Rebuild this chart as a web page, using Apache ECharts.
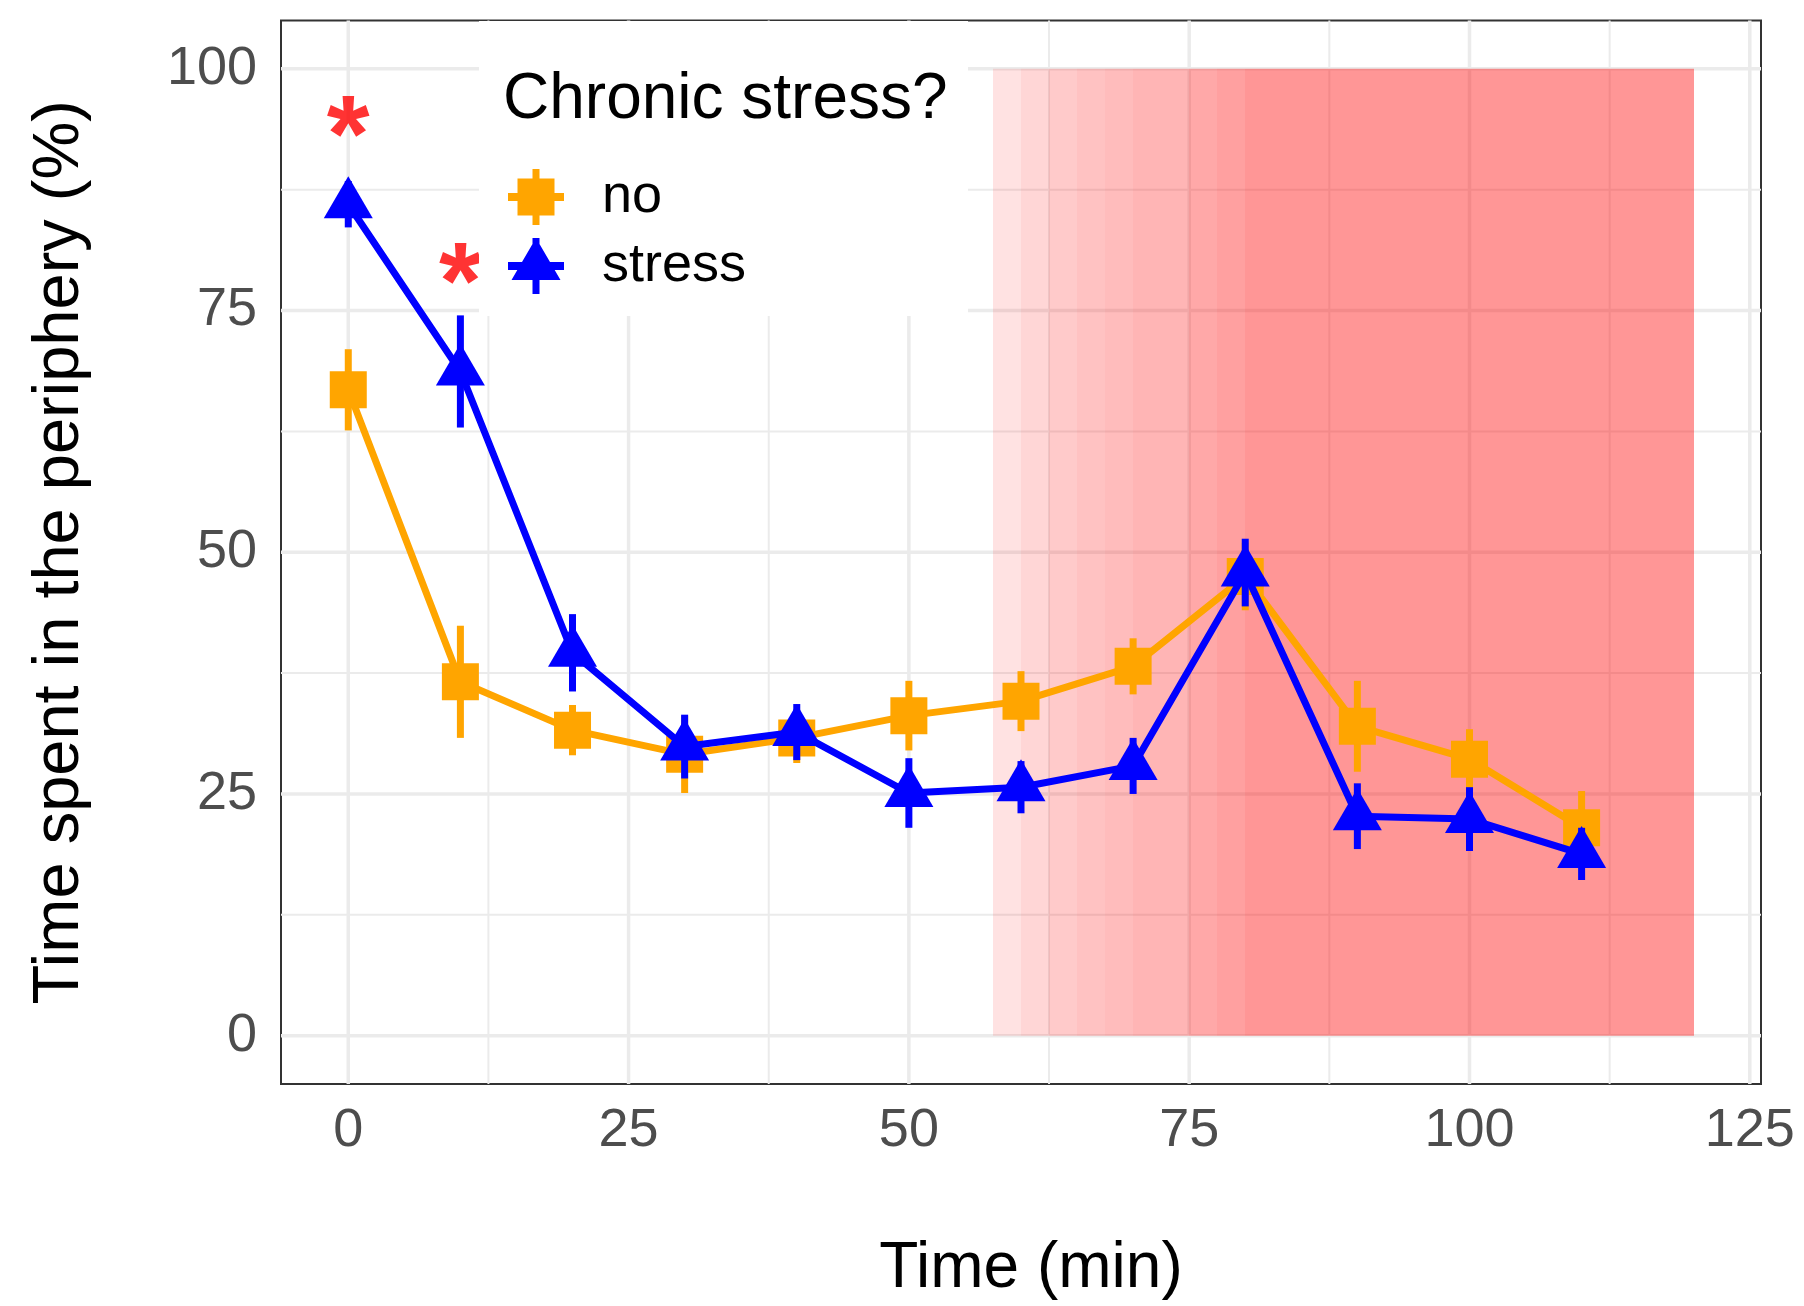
<!DOCTYPE html>
<html><head><meta charset="utf-8">
<script src="https://cdn.jsdelivr.net/npm/echarts@6/dist/echarts.min.js"></script>
<style>html,body{margin:0;padding:0;background:#fff}#c{width:1804px;height:1306px}</style>
</head><body><div id="c"></div>
<script>
// ---------------- data ----------------
const times = [0, 10, 20, 30, 40, 50, 60, 70, 80, 90, 100, 110];
const noMean = [66.8, 36.6, 31.6, 29.1, 30.8, 33.1, 34.6, 38.2, 47.5, 32.0, 28.6, 21.5];
const noSE = [4.2, 5.8, 2.6, 4.0, 2.6, 3.6, 3.1, 2.9, 3.5, 4.7, 3.1, 3.8];
const stressMean = [86.0, 68.7, 39.6, 29.9, 31.4, 25.1, 25.7, 27.9, 47.9, 22.7, 22.4, 18.8];
const stressSE = [2.4, 5.8, 4.0, 3.3, 2.9, 3.6, 2.7, 2.9, 3.5, 3.4, 3.3, 2.7];
const sigTimes = [0, 10];
const sigY = [95.2, 79.9];
const shadeStart = [57.5, 60, 62.5, 65, 67.5, 70, 75, 77.5, 80];
const shadeEnd = [60, 62.5, 65, 67.5, 70, 75, 77.5, 80, 120];
const shadeLow = 0;
const shadeHigh = 100;
const xMajorTicks = [0, 25, 50, 75, 100, 125];
const xMinorTicks = [12.5, 37.5, 62.5, 87.5, 112.5];
const yMajorTicks = [0, 25, 50, 75, 100];
const yMinorTicks = [12.5, 37.5, 62.5, 87.5];
const groupNames = ['no', 'stress'];
const legendTitle = 'Chronic stress?';
const xTitle = 'Time (min)';
const yTitle = 'Time spent in the periphery (%)';

// ---------------- style ----------------
const FONT = '"Liberation Sans", Arial, sans-serif';
const ORANGE = '#FFA500';
const BLUE = '#0000FF';
const GRID = '#EBEBEB';
const shadeAlpha = [0.114, 0.161, 0.208, 0.239, 0.263, 0.29, 0.341, 0.373, 0.412];

const chart = echarts.init(document.getElementById('c'), null, {renderer: 'canvas'});

function errRender(color) {
  return function (params, api) {
    const x = api.value(0);
    const p1 = api.coord([x, api.value(1)]);
    const p2 = api.coord([x, api.value(2)]);
    return {type: 'line', shape: {x1: p1[0], y1: p1[1], x2: p2[0], y2: p2[1]},
      style: {stroke: color, lineWidth: 7, lineCap: 'butt'}};
  };
}

const noIcon = 'path://M0,24H56V32H0Z M24.5,0H31.5V56H24.5Z M9.5,9.5H46.5V46.5H9.5Z';
const stressIcon = 'path://M0,24H56V32H0Z M24.5,0H31.5V56H24.5Z M28,0L52.5,42L3.5,42Z';

const option = {
  animation: false,
  backgroundColor: '#fff',
  grid: {left: 281, right: 43, top: 20.5, bottom: 218.5, show: true, borderColor: '#333', borderWidth: 2, backgroundColor: '#fff'},
  title: {
    text: legendTitle, left: 503, top: 68, padding: 0, z: 11,
    textStyle: {fontSize: 64, lineHeight: 64, fontWeight: 'normal', color: '#000', fontFamily: FONT}
  },
  legend: {
    orient: 'vertical', left: 479, top: 21, z: 10,
    data: [{name: groupNames[0], icon: noIcon}, {name: groupNames[1], icon: stressIcon}],
    itemWidth: 56, itemHeight: 56, itemGap: 13,
    padding: [148, 222, 22, 29],
    backgroundColor: '#fff',
    selectedMode: false,
    itemStyle: {borderWidth: 0},
    formatter: function (name) { return '{t|' + name + '}'; },
    textStyle: {fontSize: 54, color: '#000', fontFamily: FONT,
      rich: {t: {fontSize: 54, color: '#000', fontFamily: FONT, padding: [0, 0, 0, 33]}}}
  },
  xAxis: {
    type: 'value', min: -6, max: 126,
    name: xTitle, nameLocation: 'middle', nameGap: 153,
    nameTextStyle: {fontSize: 64, color: '#000', fontFamily: FONT, padding: [0, 0, 0, 20]},
    axisLine: {show: false},
    axisTick: {show: true, length: 10, customValues: xMajorTicks, lineStyle: {color: '#333', width: 2}},
    axisLabel: {customValues: xMajorTicks, margin: 20, fontSize: 54, color: '#4D4D4D', fontFamily: FONT},
    splitLine: {show: false}
  },
  yAxis: {
    type: 'value', min: -5, max: 105,
    name: yTitle, nameLocation: 'middle', nameGap: 188,
    nameTextStyle: {fontSize: 65, color: '#000', fontFamily: FONT},
    axisLine: {show: false},
    axisTick: {show: true, length: 10, customValues: yMajorTicks, lineStyle: {color: '#333', width: 2}},
    axisLabel: {customValues: yMajorTicks, margin: 24, fontSize: 54, color: '#4D4D4D', fontFamily: FONT},
    splitLine: {show: false}
  },
  series: [
    { // vertical grid lines
      type: 'custom', name: 'xgrid', z: 1, silent: true,
      data: xMajorTicks.map(v => [v, 1]).concat(xMinorTicks.map(v => [v, 0])),
      renderItem: function (params, api) {
        const cs = params.coordSys;
        const x = api.coord([api.value(0), 0])[0];
        return {type: 'line', shape: {x1: x, y1: cs.y, x2: x, y2: cs.y + cs.height},
          style: {stroke: GRID, lineWidth: api.value(1) ? 3.5 : 2}};
      }
    },
    { // horizontal grid lines
      type: 'custom', name: 'ygrid', z: 1, silent: true,
      data: yMajorTicks.map(v => [0, v, 1]).concat(yMinorTicks.map(v => [0, v, 0])),
      renderItem: function (params, api) {
        const cs = params.coordSys;
        const y = api.coord([0, api.value(1)])[1];
        return {type: 'line', shape: {x1: cs.x, y1: y, x2: cs.x + cs.width, y2: y},
          style: {stroke: GRID, lineWidth: api.value(2) ? 3.5 : 2}};
      }
    },
    { // shaded period
      type: 'custom', name: 'shade', z: 2, silent: true,
      encode: {x: [0, 2], y: [1, 3]},
      data: shadeStart.map((s, i) => [s, shadeLow, shadeEnd[i], shadeHigh, i]),
      renderItem: function (params, api) {
        const p0 = api.coord([api.value(0), api.value(3)]);
        const p1 = api.coord([api.value(2), api.value(1)]);
        const x0 = Math.round(p0[0]), x1 = Math.round(p1[0]);
        return {type: 'rect', shape: {x: x0, y: p0[1], width: x1 - x0, height: p1[1] - p0[1]},
          style: {fill: 'rgba(255,0,0,' + shadeAlpha[api.value(4)] + ')'}};
      }
    },
    {
      type: 'custom', name: 'no-se', z: 3, silent: true,
      encode: {x: 0, y: [1, 2]},
      data: times.map((t, i) => [t, noMean[i] - noSE[i], noMean[i] + noSE[i]]),
      renderItem: errRender(ORANGE)
    },
    {
      type: 'line', name: groupNames[0], z: 4,
      data: times.map((t, i) => [t, noMean[i]]),
      symbol: 'rect', symbolSize: 37, showSymbol: true,
      itemStyle: {color: ORANGE, borderWidth: 0},
      lineStyle: {color: ORANGE, width: 7}
    },
    {
      type: 'custom', name: 'stress-se', z: 5, silent: true,
      encode: {x: 0, y: [1, 2]},
      data: times.map((t, i) => [t, stressMean[i] - stressSE[i], stressMean[i] + stressSE[i]]),
      renderItem: errRender(BLUE)
    },
    {
      type: 'line', name: groupNames[1], z: 6,
      data: times.map((t, i) => [t, stressMean[i]]),
      symbol: 'triangle', symbolSize: [49, 42], symbolOffset: [0, -7], showSymbol: true,
      itemStyle: {color: BLUE, borderWidth: 0},
      lineStyle: {color: BLUE, width: 7}
    },
    {
      type: 'scatter', name: 'sig', z: 7, silent: true,
      data: sigTimes.map((t, i) => [t, sigY[i]]),
      symbolSize: 1, itemStyle: {color: 'rgba(0,0,0,0)'},
      label: {show: true, formatter: '*', position: 'inside', offset: [0, 25],
        fontSize: 110, fontWeight: 'bold', color: '#FF0000', fontFamily: FONT}
    }
  ]
};
chart.setOption(option);
</script></body></html>
